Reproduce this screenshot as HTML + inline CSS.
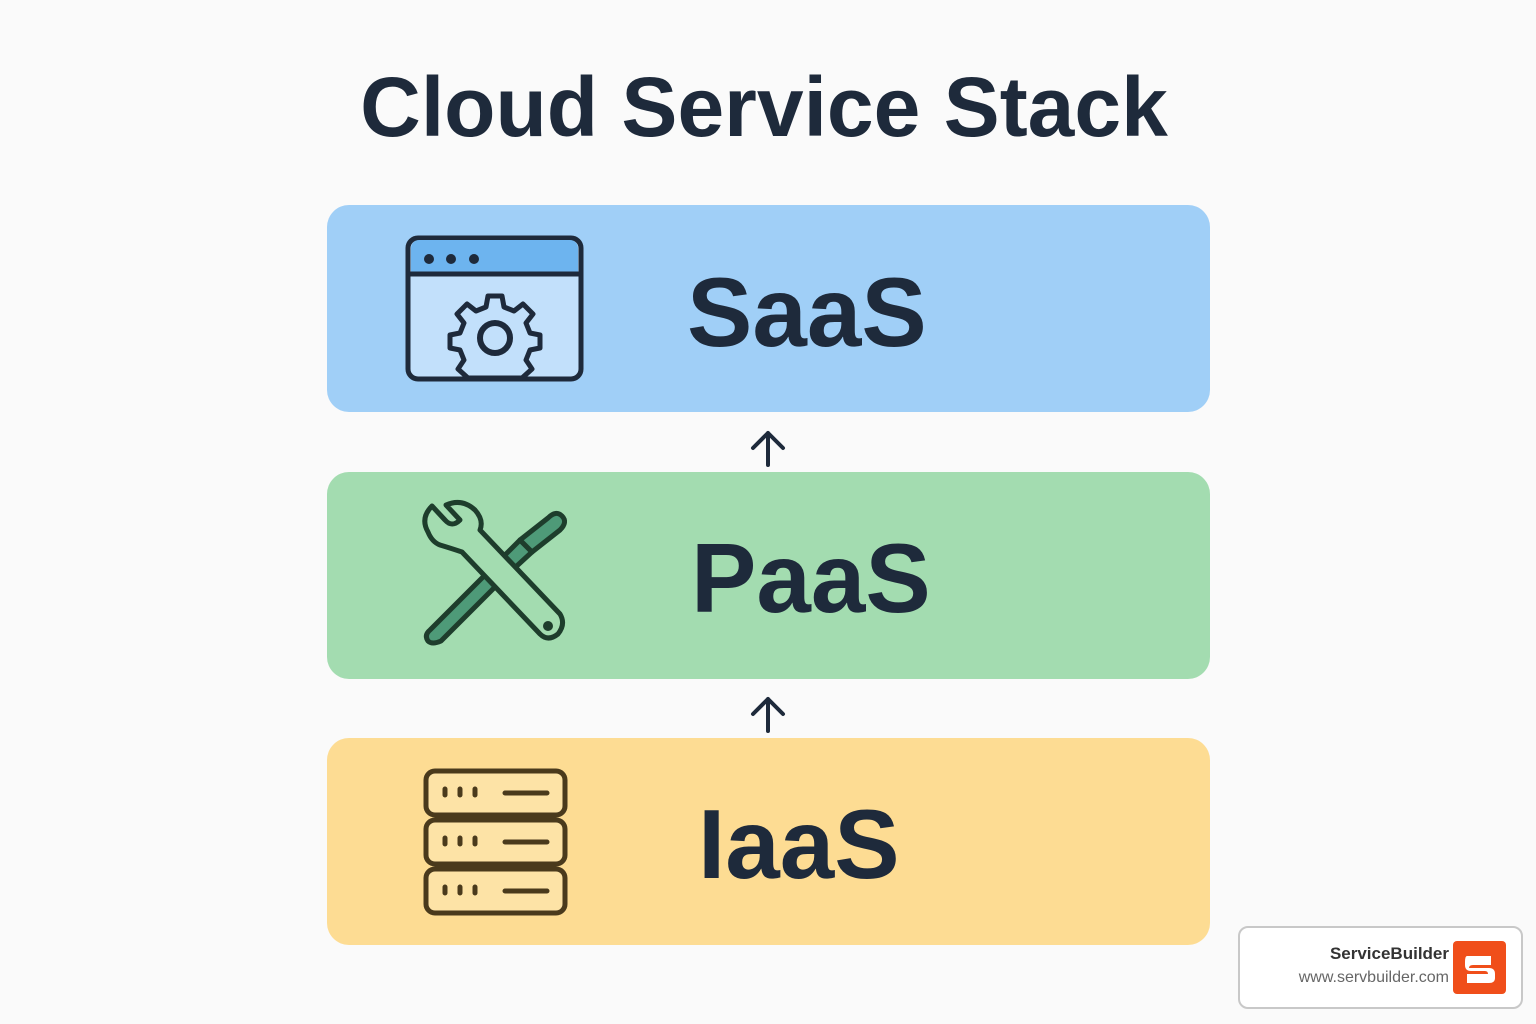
<!DOCTYPE html>
<html><head><meta charset="utf-8"><style>
body{margin:0;width:1536px;height:1024px;background:#fafafa;position:relative;overflow:hidden;font-family:"Liberation Sans",sans-serif;color:#1e2a3b}
.t{position:absolute;left:0;width:1528px;text-align:center;top:59px;font-size:84px;font-weight:bold;letter-spacing:0px}
.b{position:absolute;left:327px;width:883px;height:207px;border-radius:22px}
.l{position:absolute;font-size:98px;font-weight:bold;letter-spacing:0}
.badge{position:absolute;left:1238px;top:926px;width:281px;height:79px;border:2px solid #c8c8c8;border-radius:10px;background:#fff}
</style></head><body>
<div class="t">Cloud Service Stack</div>
<div class="b" style="top:205px;background:#a0cff7"></div>
<div class="b" style="top:472px;background:#a3dcb0"></div>
<div class="b" style="top:738px;background:#fddc93"></div>
<div class="l" style="left:687px;top:256px">SaaS</div>
<div class="l" style="left:691px;top:522px">PaaS</div>
<div class="l" style="left:698px;top:788px">IaaS</div>
<svg width="1536" height="1024" style="position:absolute;left:0;top:0">
<g stroke="#1e2a3b" stroke-width="4" fill="none" stroke-linecap="round" stroke-linejoin="round">
<path d="M768 465V433M753 448L768 433L783 448"/>
<path d="M768 731V699M753 714L768 699L783 714"/>
</g>
<rect x="408" y="238" width="173" height="141" rx="10" fill="#c2e0fb" stroke="#1e2a3b" stroke-width="5"/>
<path d="M411 273V248a8 8 0 0 1 8-8h151a8 8 0 0 1 8 8v25z" fill="#6db4ef"/>
<line x1="408" y1="274" x2="581" y2="274" stroke="#1e2a3b" stroke-width="5"/>
<circle cx="429" cy="259" r="5" fill="#1e2a3b"/><circle cx="451" cy="259" r="5" fill="#1e2a3b"/><circle cx="474" cy="259" r="5" fill="#1e2a3b"/>
<g transform="translate(495,338)">
<path d="M-7,-42 L7,-42 L9,-31 L19,-27 L28,-34 L38,-24 L31,-15 L35,-5 L45,-3 L45,10 L35,12 L31,22 L37,31 L27,40 L10,40 L-10,40 L-27,40 L-37,31 L-31,22 L-35,12 L-45,10 L-45,-3 L-35,-5 L-31,-15 L-38,-24 L-28,-34 L-19,-27 L-9,-31 Z" fill="#c2e0fb" stroke="#1e2a3b" stroke-width="5" stroke-linejoin="round"/>
<circle r="15" fill="none" stroke="#1e2a3b" stroke-width="6"/>
</g>
<g stroke="#1e3d2c" stroke-width="5" stroke-linejoin="round" stroke-linecap="round">
<path d="M430 630L497 563L508 574L441 641Q432 645 428 641Q424 635 430 630Z" fill="#4e9a78"/>
<path d="M497 563L520 540L532 552L508 574Z" fill="#4e9a78"/>
<path d="M520 540L548 518Q556 510 562 516Q568 522 560 530L532 552Z" fill="#4e9a78"/>
<path d="M428 532Q420 518 432 506L445 520Q452 528 460 520L446 505Q462 498 475 510Q484 520 480 530L560 614Q566 624 558 634Q548 642 540 634L462 552Q450 548 440 545Q432 542 428 532Z" fill="#a3dcb0"/>
</g>
<circle cx="548" cy="626" r="5" fill="#1e3d2c"/>
<g stroke="#4a3a1c" stroke-width="5" fill="#fde3a6">
<rect x="426" y="771" width="139" height="44" rx="9"/>
<rect x="426" y="820" width="139" height="44" rx="9"/>
<rect x="426" y="869" width="139" height="44" rx="9"/>
</g>
<g stroke="#4a3a1c" stroke-width="5" stroke-linecap="round">
<path d="M445 789v6M460 789v6M475 789v6M505 793h42"/>
<path d="M445 838v6M460 838v6M475 838v6M505 842h42"/>
<path d="M445 887v6M460 887v6M475 887v6M505 891h42"/>
</g>
</svg>
<div class="badge">
<div style="position:absolute;right:72px;top:16px;font-size:17px;font-weight:bold;color:#333">ServiceBuilder</div>
<div style="position:absolute;right:72px;top:41px;font-size:16px;color:#666">www.servbuilder.com</div>
<svg style="position:absolute;left:213px;top:13px" width="53" height="53"><rect width="53" height="53" rx="4" fill="#f04e1a"/><path d="M14 15h24v9H20q-4 0-4 3v0h20q6 0 6 6v4q0 5-6 5H14v-9h21q0-3-3-3H18q-6 0-6-6v-3q0-6 2-6z" fill="#fff"/></svg>
</div>
</body></html>
